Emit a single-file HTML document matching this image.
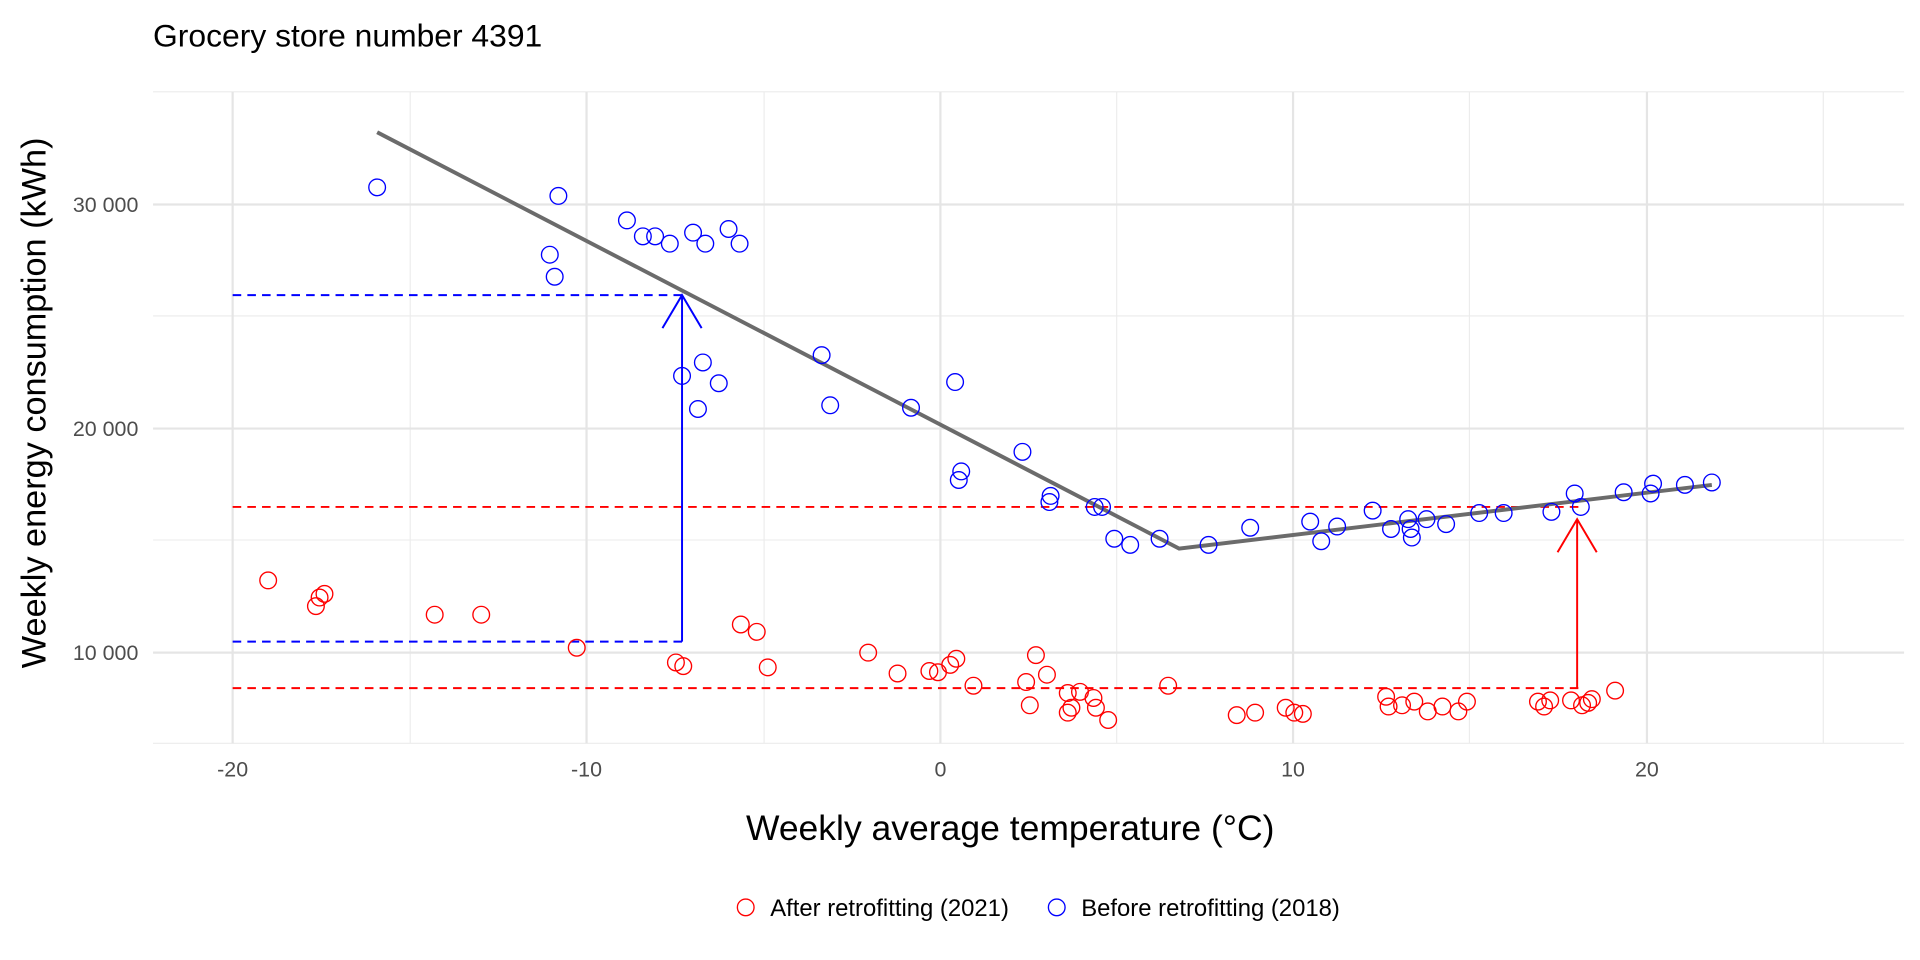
<!DOCTYPE html>
<html><head><meta charset="utf-8"><style>
html,body{margin:0;padding:0;background:#fff;}
svg{display:block;font-family:"Liberation Sans",Arial,sans-serif;}
</style></head><body>
<svg width="1920" height="960" viewBox="0 0 1568 784" xmlns="http://www.w3.org/2000/svg">
<rect width="1568" height="784" fill="#fff"/>
<g stroke="#ebebeb" stroke-width="0.9">
<line x1="335" y1="75" x2="335" y2="607"/><line x1="624" y1="75" x2="624" y2="607"/>
<line x1="912" y1="75" x2="912" y2="607"/><line x1="1200" y1="75" x2="1200" y2="607"/>
<line x1="1489" y1="75" x2="1489" y2="607"/>
<line x1="125" y1="75" x2="1555" y2="75"/><line x1="125" y1="258" x2="1555" y2="258"/>
<line x1="125" y1="441" x2="1555" y2="441"/><line x1="125" y1="607" x2="1555" y2="607"/>
</g>
<g stroke="#e5e5e5" stroke-width="1.8">
<line x1="190" y1="75" x2="190" y2="607"/><line x1="479" y1="75" x2="479" y2="607"/>
<line x1="768" y1="75" x2="768" y2="607"/><line x1="1056" y1="75" x2="1056" y2="607"/>
<line x1="1345" y1="75" x2="1345" y2="607"/>
<line x1="125" y1="167" x2="1555" y2="167"/><line x1="125" y1="350" x2="1555" y2="350"/>
<line x1="125" y1="533" x2="1555" y2="533"/>
</g>
<g font-size="17.5" fill="#4d4d4d">
<text x="113" y="173" text-anchor="end">30 000</text>
<text x="113" y="356" text-anchor="end">20 000</text>
<text x="113" y="539" text-anchor="end">10 000</text>
<g text-anchor="middle">
<text x="190" y="634">-20</text><text x="479" y="634">-10</text><text x="768" y="634">0</text>
<text x="1056" y="634">10</text><text x="1345" y="634">20</text></g>
</g>
<text x="125" y="38" font-size="26" fill="#000">Grocery store number 4391</text>
<text x="825" y="686" font-size="29" text-anchor="middle" fill="#000">Weekly average temperature (°C)</text>
<text transform="translate(37,329) rotate(-90)" font-size="28" text-anchor="middle" fill="#000">Weekly energy consumption (kWh)</text>
<g stroke-width="1.6" fill="none" stroke-dasharray="7,5">
<line x1="190" y1="241" x2="557" y2="241" stroke="#0000ff"/>
<line x1="190" y1="524" x2="557" y2="524" stroke="#0000ff"/>
<line x1="190" y1="414" x2="1290" y2="414" stroke="#ff0000"/>
<line x1="190" y1="562" x2="1290" y2="562" stroke="#ff0000"/>
</g>
<g stroke-width="1.6" fill="none">
<path d="M557 524V241M541 268L557 241L573 268" stroke="#0000ff"/>
<path d="M1288 562V424M1272 451L1288 424L1304 451" stroke="#ff0000"/>
</g>
<polyline points="308,108 963,448 1398,396" fill="none" stroke="#6b6b6b" stroke-width="3.2"/>
<g fill="none" stroke="#0000ff" stroke-width="1.1">
<circle cx="308" cy="153" r="6.8"/><circle cx="456" cy="160" r="6.8"/><circle cx="449" cy="208" r="6.8"/><circle cx="453" cy="226" r="6.8"/><circle cx="512" cy="180" r="6.8"/><circle cx="525" cy="193" r="6.8"/><circle cx="535" cy="193" r="6.8"/><circle cx="547" cy="199" r="6.8"/><circle cx="566" cy="190" r="6.8"/><circle cx="576" cy="199" r="6.8"/><circle cx="595" cy="187" r="6.8"/><circle cx="604" cy="199" r="6.8"/><circle cx="671" cy="290" r="6.8"/><circle cx="678" cy="331" r="6.8"/><circle cx="557" cy="307" r="6.8"/><circle cx="574" cy="296" r="6.8"/><circle cx="587" cy="313" r="6.8"/><circle cx="570" cy="334" r="6.8"/><circle cx="780" cy="312" r="6.8"/><circle cx="744" cy="333" r="6.8"/><circle cx="835" cy="369" r="6.8"/><circle cx="785" cy="385" r="6.8"/><circle cx="783" cy="392" r="6.8"/><circle cx="858" cy="405" r="6.8"/><circle cx="857" cy="410" r="6.8"/><circle cx="894" cy="414" r="6.8"/><circle cx="900" cy="414" r="6.8"/><circle cx="910" cy="440" r="6.8"/><circle cx="923" cy="445" r="6.8"/><circle cx="947" cy="440" r="6.8"/><circle cx="987" cy="445" r="6.8"/><circle cx="1021" cy="431" r="6.8"/><circle cx="1070" cy="426" r="6.8"/><circle cx="1079" cy="442" r="6.8"/><circle cx="1092" cy="430" r="6.8"/><circle cx="1121" cy="417" r="6.8"/><circle cx="1136" cy="432" r="6.8"/><circle cx="1150" cy="424" r="6.8"/><circle cx="1152" cy="432" r="6.8"/><circle cx="1153" cy="439" r="6.8"/><circle cx="1165" cy="424" r="6.8"/><circle cx="1181" cy="428" r="6.8"/><circle cx="1208" cy="419" r="6.8"/><circle cx="1228" cy="419" r="6.8"/><circle cx="1267" cy="418" r="6.8"/><circle cx="1286" cy="403" r="6.8"/><circle cx="1291" cy="414" r="6.8"/><circle cx="1326" cy="402" r="6.8"/><circle cx="1348" cy="403" r="6.8"/><circle cx="1350" cy="395" r="6.8"/><circle cx="1376" cy="396" r="6.8"/><circle cx="1398" cy="394" r="6.8"/>
</g>
<g fill="none" stroke="#ff0000" stroke-width="1.1">
<circle cx="219" cy="474" r="6.8"/><circle cx="258" cy="495" r="6.8"/><circle cx="261" cy="488" r="6.8"/><circle cx="265" cy="485" r="6.8"/><circle cx="355" cy="502" r="6.8"/><circle cx="393" cy="502" r="6.8"/><circle cx="471" cy="529" r="6.8"/><circle cx="552" cy="541" r="6.8"/><circle cx="558" cy="544" r="6.8"/><circle cx="605" cy="510" r="6.8"/><circle cx="618" cy="516" r="6.8"/><circle cx="627" cy="545" r="6.8"/><circle cx="709" cy="533" r="6.8"/><circle cx="733" cy="550" r="6.8"/><circle cx="759" cy="548" r="6.8"/><circle cx="766" cy="549" r="6.8"/><circle cx="776" cy="543" r="6.8"/><circle cx="781" cy="538" r="6.8"/><circle cx="795" cy="560" r="6.8"/><circle cx="838" cy="557" r="6.8"/><circle cx="841" cy="576" r="6.8"/><circle cx="846" cy="535" r="6.8"/><circle cx="855" cy="551" r="6.8"/><circle cx="872" cy="566" r="6.8"/><circle cx="875" cy="578" r="6.8"/><circle cx="872" cy="582" r="6.8"/><circle cx="882" cy="565" r="6.8"/><circle cx="893" cy="570" r="6.8"/><circle cx="895" cy="578" r="6.8"/><circle cx="905" cy="588" r="6.8"/><circle cx="954" cy="560" r="6.8"/><circle cx="1010" cy="584" r="6.8"/><circle cx="1025" cy="582" r="6.8"/><circle cx="1050" cy="578" r="6.8"/><circle cx="1057" cy="582" r="6.8"/><circle cx="1064" cy="583" r="6.8"/><circle cx="1132" cy="569" r="6.8"/><circle cx="1134" cy="577" r="6.8"/><circle cx="1145" cy="576" r="6.8"/><circle cx="1155" cy="573" r="6.8"/><circle cx="1166" cy="581" r="6.8"/><circle cx="1178" cy="577" r="6.8"/><circle cx="1191" cy="581" r="6.8"/><circle cx="1198" cy="573" r="6.8"/><circle cx="1256" cy="573" r="6.8"/><circle cx="1261" cy="577" r="6.8"/><circle cx="1266" cy="572" r="6.8"/><circle cx="1283" cy="572" r="6.8"/><circle cx="1292" cy="576" r="6.8"/><circle cx="1297" cy="574" r="6.8"/><circle cx="1300" cy="571" r="6.8"/><circle cx="1319" cy="564" r="6.8"/>
</g>
<circle cx="609" cy="741" r="6.8" fill="none" stroke="#ff0000" stroke-width="1.1"/>
<text x="629" y="748" font-size="19.5" fill="#000">After retrofitting (2021)</text>
<circle cx="863" cy="741" r="6.8" fill="none" stroke="#0000ff" stroke-width="1.1"/>
<text x="883" y="748" font-size="19.5" fill="#000">Before retrofitting (2018)</text>
</svg>
</body></html>
